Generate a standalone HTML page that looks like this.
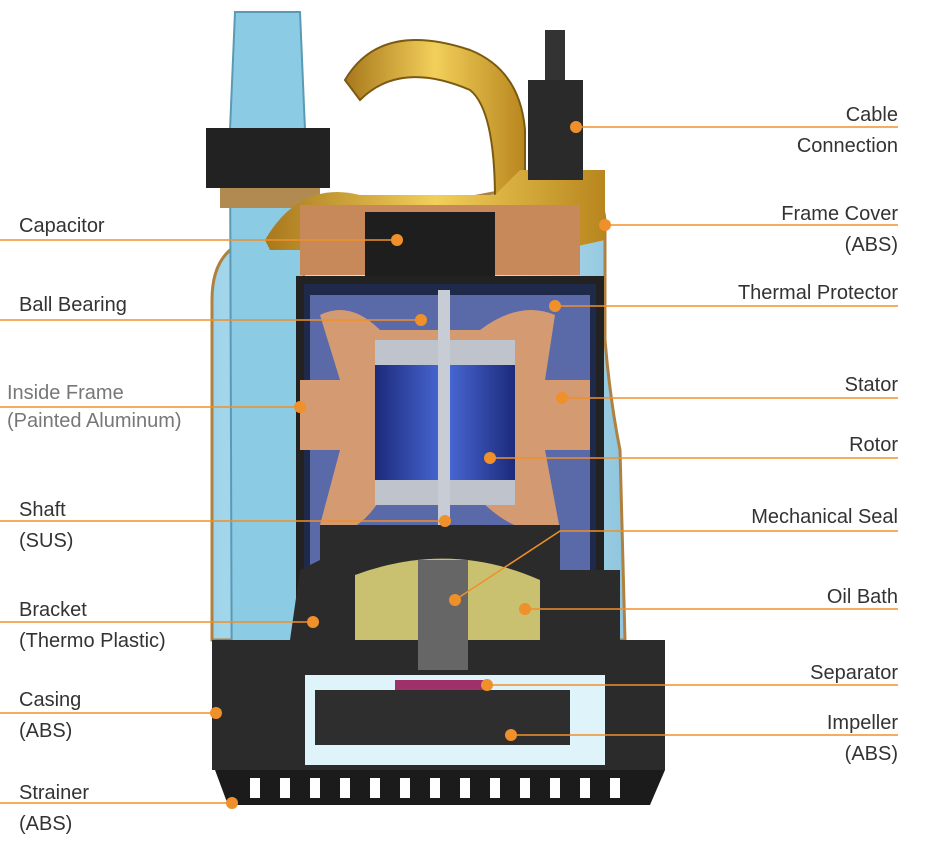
<!DOCTYPE html>
<html><head><meta charset="utf-8"><style>
html,body{margin:0;padding:0;background:#fff;}
body{width:940px;height:846px;position:relative;overflow:hidden;font-family:"Liberation Sans",sans-serif;}
.t{position:absolute;font-size:20px;color:#333;line-height:24px;white-space:nowrap;}
.r{text-align:right;right:42px;}
.g{color:#777;font-weight:300;}
</style></head><body>
<svg width="940" height="846" style="position:absolute;left:0;top:0">
<defs>
<linearGradient id="blue" x1="0" x2="1"><stop offset="0" stop-color="#9ed4ea"/><stop offset=".5" stop-color="#d6f0fa"/><stop offset="1" stop-color="#8fc6de"/></linearGradient>
<linearGradient id="rot" x1="0" x2="1"><stop offset="0" stop-color="#1c2a7a"/><stop offset=".5" stop-color="#4a6ad8"/><stop offset="1" stop-color="#1c2a7a"/></linearGradient>
<linearGradient id="gold" x1="0" x2="1"><stop offset="0" stop-color="#a8781c"/><stop offset=".5" stop-color="#f2cf5a"/><stop offset="1" stop-color="#b8861e"/></linearGradient>
</defs>
<!-- casing outer -->
<path d="M212 640 L212 300 Q212 250 250 240 L560 180 Q600 175 605 220 L605 340 Q610 400 620 450 L625 640 Z" fill="url(#blue)" stroke="#b08040" stroke-width="3"/>
<!-- left tube -->
<path d="M235 12 L300 12 L305 130 L300 760 L232 760 L230 130 Z" fill="#8ccbe4" stroke="#5a9ab4" stroke-width="2"/>
<rect x="206" y="128" width="124" height="60" fill="#222"/>
<rect x="220" y="188" width="100" height="20" fill="#b08a50"/>
<!-- handle -->
<path d="M345 80 Q380 20 470 50 Q520 70 525 130 L525 200 L495 200 Q495 110 470 90 Q400 60 360 100 Z" fill="url(#gold)" stroke="#7a5a10" stroke-width="2"/>
<path d="M265 240 Q300 180 360 195 L495 195 L520 170 L605 170 L605 240 L560 250 L270 250 Z" fill="url(#gold)"/>
<!-- cable -->
<rect x="545" y="30" width="20" height="50" fill="#333"/>
<rect x="528" y="80" width="55" height="100" fill="#2a2a2a"/>
<!-- top frame copper -->
<rect x="300" y="205" width="280" height="70" fill="#c7885a"/>
<rect x="365" y="212" width="130" height="66" fill="#1e1e1e"/>
<!-- motor housing -->
<rect x="300" y="280" width="300" height="360" fill="#1f2a4a" stroke="#222" stroke-width="8"/>
<rect x="310" y="295" width="280" height="330" fill="#5a6aa8"/>
<!-- stator -->
<path d="M320 315 Q350 300 380 330 L480 330 Q520 300 555 315 L545 380 L590 380 L590 450 L545 450 L560 530 Q520 540 480 500 L380 500 Q350 545 320 525 L340 450 L300 450 L300 380 L340 380 Z" fill="#d49a72"/>
<!-- rotor -->
<rect x="375" y="365" width="140" height="115" fill="url(#rot)"/>
<rect x="375" y="340" width="140" height="25" fill="#bfc3cc"/>
<rect x="375" y="480" width="140" height="25" fill="#bfc3cc"/>
<rect x="438" y="290" width="12" height="385" fill="#c8ccd4"/>
<!-- bracket dark -->
<path d="M320 525 L560 525 L560 570 L620 570 L620 640 L665 640 L665 770 L212 770 L212 640 L290 640 L300 570 L320 560 Z" fill="#2b2b2b"/>
<path d="M355 575 Q450 540 540 580 L540 640 L355 640 Z" fill="#c9c070"/>
<rect x="418" y="560" width="50" height="110" fill="#666"/>
<!-- impeller chamber -->
<rect x="305" y="675" width="300" height="90" fill="#dff3fb"/>
<rect x="395" y="680" width="95" height="12" fill="#a0306a"/>
<rect x="315" y="690" width="255" height="55" fill="#2e2e2e"/>
<!-- strainer -->
<path d="M215 770 L665 770 L650 805 L228 805 Z" fill="#1b1b1b"/>
<g fill="#fff">
<rect x="250" y="778" width="10" height="20"/><rect x="280" y="778" width="10" height="20"/><rect x="310" y="778" width="10" height="20"/><rect x="340" y="778" width="10" height="20"/><rect x="370" y="778" width="10" height="20"/><rect x="400" y="778" width="10" height="20"/><rect x="430" y="778" width="10" height="20"/><rect x="460" y="778" width="10" height="20"/><rect x="490" y="778" width="10" height="20"/><rect x="520" y="778" width="10" height="20"/><rect x="550" y="778" width="10" height="20"/><rect x="580" y="778" width="10" height="20"/><rect x="610" y="778" width="10" height="20"/>
</g>
<!-- leader lines -->
<g stroke="#f0902a" stroke-width="1.5" fill="none">
<line x1="0" y1="240" x2="397" y2="240"/>
<line x1="0" y1="320" x2="421" y2="320"/>
<line x1="0" y1="407" x2="300" y2="407"/>
<line x1="0" y1="521" x2="445" y2="521"/>
<line x1="0" y1="622" x2="313" y2="622"/>
<line x1="0" y1="713" x2="216" y2="713"/>
<line x1="0" y1="803" x2="232" y2="803"/>
<line x1="576" y1="127" x2="898" y2="127"/>
<line x1="605" y1="225" x2="898" y2="225"/>
<line x1="555" y1="306" x2="898" y2="306"/>
<line x1="562" y1="398" x2="898" y2="398"/>
<line x1="490" y1="458" x2="898" y2="458"/>
<polyline points="455,600 560,531 898,531"/>
<line x1="525" y1="609" x2="898" y2="609"/>
<line x1="487" y1="685" x2="898" y2="685"/>
<line x1="511" y1="735" x2="898" y2="735"/>
</g>
<g fill="#f0902a">
<circle cx="397" cy="240" r="6"/><circle cx="421" cy="320" r="6"/><circle cx="300" cy="407" r="6"/><circle cx="445" cy="521" r="6"/><circle cx="313" cy="622" r="6"/><circle cx="216" cy="713" r="6"/><circle cx="232" cy="803" r="6"/>
<circle cx="576" cy="127" r="6"/><circle cx="605" cy="225" r="6"/><circle cx="555" cy="306" r="6"/><circle cx="562" cy="398" r="6"/><circle cx="490" cy="458" r="6"/><circle cx="455" cy="600" r="6"/><circle cx="525" cy="609" r="6"/><circle cx="487" cy="685" r="6"/><circle cx="511" cy="735" r="6"/>
</g>
</svg>
<div class="t" style="left:19px;top:214px">Capacitor</div>
<div class="t" style="left:19px;top:293px">Ball Bearing</div>
<div class="t g" style="left:7px;top:381px">Inside Frame<br><span style="line-height:32px">(Painted Aluminum)</span></div>
<div class="t" style="left:19px;top:495px;line-height:31px">Shaft<br>(SUS)</div>
<div class="t" style="left:19px;top:595px;line-height:31px">Bracket<br>(Thermo Plastic)</div>
<div class="t" style="left:19px;top:685px;line-height:31px">Casing<br>(ABS)</div>
<div class="t" style="left:19px;top:778px;line-height:31px">Strainer<br>(ABS)</div>
<div class="t r" style="top:100px;line-height:31px">Cable<br>Connection</div>
<div class="t r" style="top:199px;line-height:31px">Frame Cover<br>(ABS)</div>
<div class="t r" style="top:281px">Thermal Protector</div>
<div class="t r" style="top:373px">Stator</div>
<div class="t r" style="top:433px">Rotor</div>
<div class="t r" style="top:505px">Mechanical Seal</div>
<div class="t r" style="top:585px">Oil Bath</div>
<div class="t r" style="top:661px">Separator</div>
<div class="t r" style="top:708px;line-height:31px">Impeller<br>(ABS)</div>
</body></html>
